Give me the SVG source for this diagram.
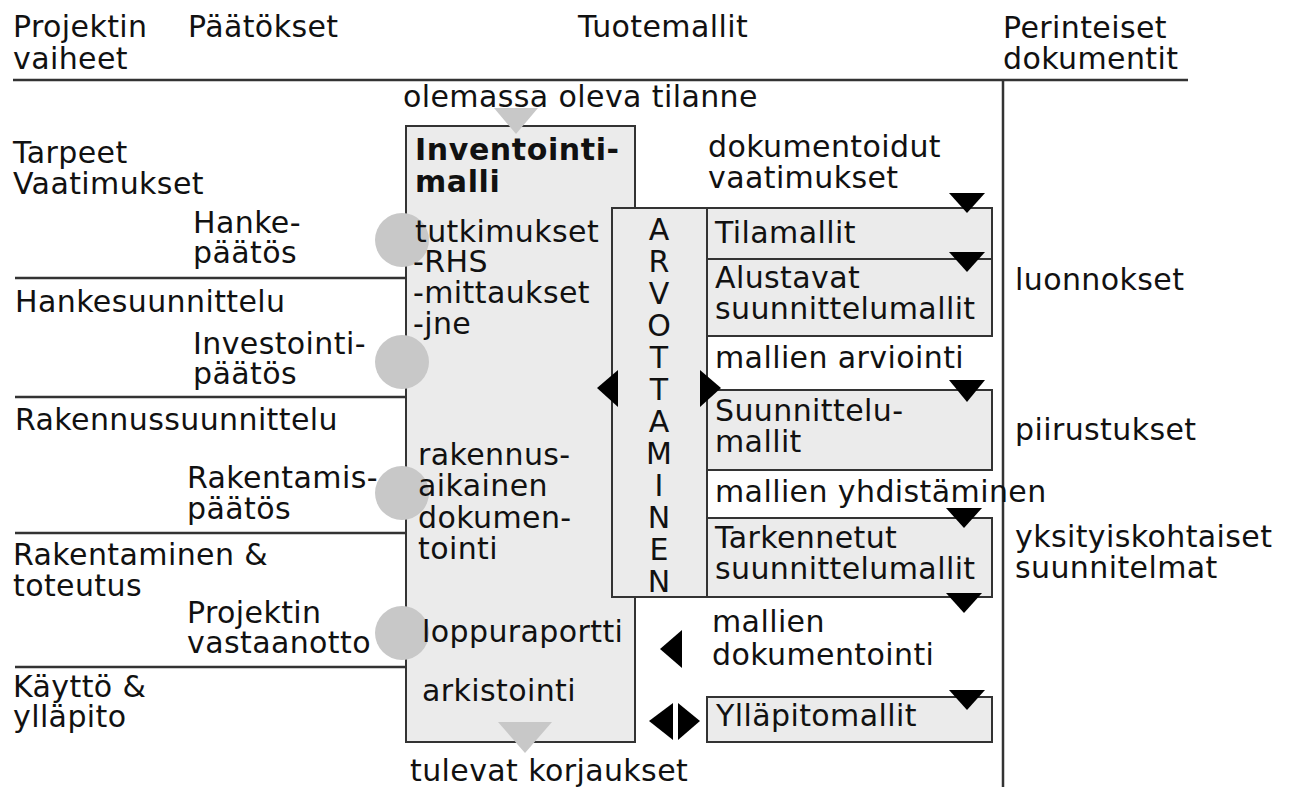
<svg xmlns="http://www.w3.org/2000/svg" width="1292" height="787" viewBox="0 0 1292 787">
<style>
text{font-family:"DejaVu Sans","Verdana",sans-serif;font-size:30px;letter-spacing:0.4px;fill:#111}
.b{font-weight:bold;letter-spacing:0.6px}
.m{text-anchor:middle;letter-spacing:0}
.box{fill:#ebebeb;stroke:#333;stroke-width:2}
.ln{stroke:#333;stroke-width:2.5;fill:none}
.dot{fill:#c8c8c8}
.tri{fill:#000}
.gtri{fill:#c8c8c8}
</style>
<rect width="1292" height="787" fill="#fff"/>
<g id="frame">
<line class="ln" x1="13" y1="80" x2="1188" y2="80"/>
<line class="ln" x1="1003" y1="80" x2="1003" y2="787"/>
<line class="ln" x1="15" y1="278" x2="406" y2="278"/>
<line class="ln" x1="15" y1="397" x2="406" y2="397"/>
<line class="ln" x1="15" y1="533" x2="406" y2="533"/>
<line class="ln" x1="15" y1="667" x2="406" y2="667"/>
</g>
<g id="headers">
<text x="13" y="37">Projektin</text>
<text x="13" y="69">vaiheet</text>
<text x="188" y="37">Päätökset</text>
<text x="578" y="37">Tuotemallit</text>
<text x="1003" y="38">Perinteiset</text>
<text x="1003" y="69">dokumentit</text>
</g>
<g id="phases">
<text x="13" y="163">Tarpeet</text>
<text x="13" y="194">Vaatimukset</text>
<text x="15" y="312">Hankesuunnittelu</text>
<text x="15" y="430">Rakennussuunnittelu</text>
<text x="13" y="565">Rakentaminen &amp;</text>
<text x="13" y="596">toteutus</text>
<text x="13" y="697">Käyttö &amp;</text>
<text x="13" y="727">ylläpito</text>
</g>
<g id="decisions">
<text x="193" y="233">Hanke-</text>
<text x="193" y="263">päätös</text>
<text x="193" y="354">Investointi-</text>
<text x="193" y="384">päätös</text>
<text x="187" y="488">Rakentamis-</text>
<text x="187" y="519">päätös</text>
<text x="187" y="623">Projektin</text>
<text x="187" y="653">vastaanotto</text>
</g>
<g id="inventointimalli">
<rect class="box" x="406" y="126" width="229" height="616"/>
</g>
<g id="arvottaminen">
<rect class="box" x="612" y="208" width="95" height="389"/>
<text class="m" x="659" y="240">A</text>
<text class="m" x="659" y="272">R</text>
<text class="m" x="659" y="304">V</text>
<text class="m" x="659" y="336">O</text>
<text class="m" x="659" y="368">T</text>
<text class="m" x="659" y="400">T</text>
<text class="m" x="659" y="432">A</text>
<text class="m" x="659" y="464">M</text>
<text class="m" x="659" y="496">I</text>
<text class="m" x="659" y="528">N</text>
<text class="m" x="659" y="560">E</text>
<text class="m" x="659" y="592">N</text>
</g>
<g id="decision-points">
<circle class="dot" cx="402" cy="240" r="27"/>
<circle class="dot" cx="402" cy="362" r="27"/>
<circle class="dot" cx="402" cy="493" r="27"/>
<circle class="dot" cx="402" cy="633" r="27"/>
</g>
<g id="inventointimalli-text">
<text class="b" x="415" y="160">Inventointi-</text>
<text class="b" x="415" y="192">malli</text>
<text x="415" y="242">tutkimukset</text>
<text x="413" y="272">-RHS</text>
<text x="413" y="303">-mittaukset</text>
<text x="413" y="334">-jne</text>
<text x="418" y="465">rakennus-</text>
<text x="418" y="496">aikainen</text>
<text x="418" y="528">dokumen-</text>
<text x="418" y="559">tointi</text>
<text x="422" y="642">loppuraportti</text>
<text x="422" y="701">arkistointi</text>
</g>
<g id="tilamallit">
<rect class="box" x="707" y="208" width="285" height="51"/>
<text x="715" y="243">Tilamallit</text>
</g>
<g id="alustavat">
<rect class="box" x="707" y="259" width="285" height="77"/>
<text x="715" y="288">Alustavat</text>
<text x="715" y="319">suunnittelumallit</text>
</g>
<g id="suunnittelumallit">
<rect class="box" x="707" y="390" width="285" height="80"/>
<text x="715" y="421">Suunnittelu-</text>
<text x="715" y="452">mallit</text>
</g>
<g id="tarkennetut">
<rect class="box" x="707" y="518" width="285" height="79"/>
<text x="715" y="548">Tarkennetut</text>
<text x="715" y="579">suunnittelumallit</text>
</g>
<g id="yllapitomallit">
<rect class="box" x="707" y="697" width="285" height="45"/>
<text x="716" y="726">Ylläpitomallit</text>
</g>
<g id="labels">
<text x="403" y="107">olemassa oleva tilanne</text>
<text x="410" y="781">tulevat korjaukset</text>
<text x="708" y="157">dokumentoidut</text>
<text x="708" y="188">vaatimukset</text>
<text x="715" y="368">mallien arviointi</text>
<text x="715" y="502">mallien yhdistäminen</text>
<text x="712" y="632">mallien</text>
<text x="712" y="665">dokumentointi</text>
<text x="1015" y="290">luonnokset</text>
<text x="1015" y="440">piirustukset</text>
<text x="1015" y="547">yksityiskohtaiset</text>
<text x="1015" y="578">suunnitelmat</text>
</g>
<g id="connectors">
<polygon class="gtri" points="494,108 538,108 516,134"/>
<polygon class="gtri" points="498,722 552,722 525,753"/>
<polygon class="tri" points="949,193 985,193 967,213"/>
<polygon class="tri" points="949,252 985,252 967,272"/>
<polygon class="tri" points="949,380 985,380 967,402"/>
<polygon class="tri" points="946,508 982,508 964,528"/>
<polygon class="tri" points="946,593 982,593 964,613"/>
<polygon class="tri" points="949,690 985,690 967,710"/>
<polygon class="tri" points="618,370 618,407 597,388"/>
<polygon class="tri" points="700,370 700,407 721,388"/>
<polygon class="tri" points="682,630 682,668 660,649"/>
<polygon class="tri" points="673,703 673,740 649,721"/>
<polygon class="tri" points="678,703 678,740 700,721"/>
</g>
</svg>
